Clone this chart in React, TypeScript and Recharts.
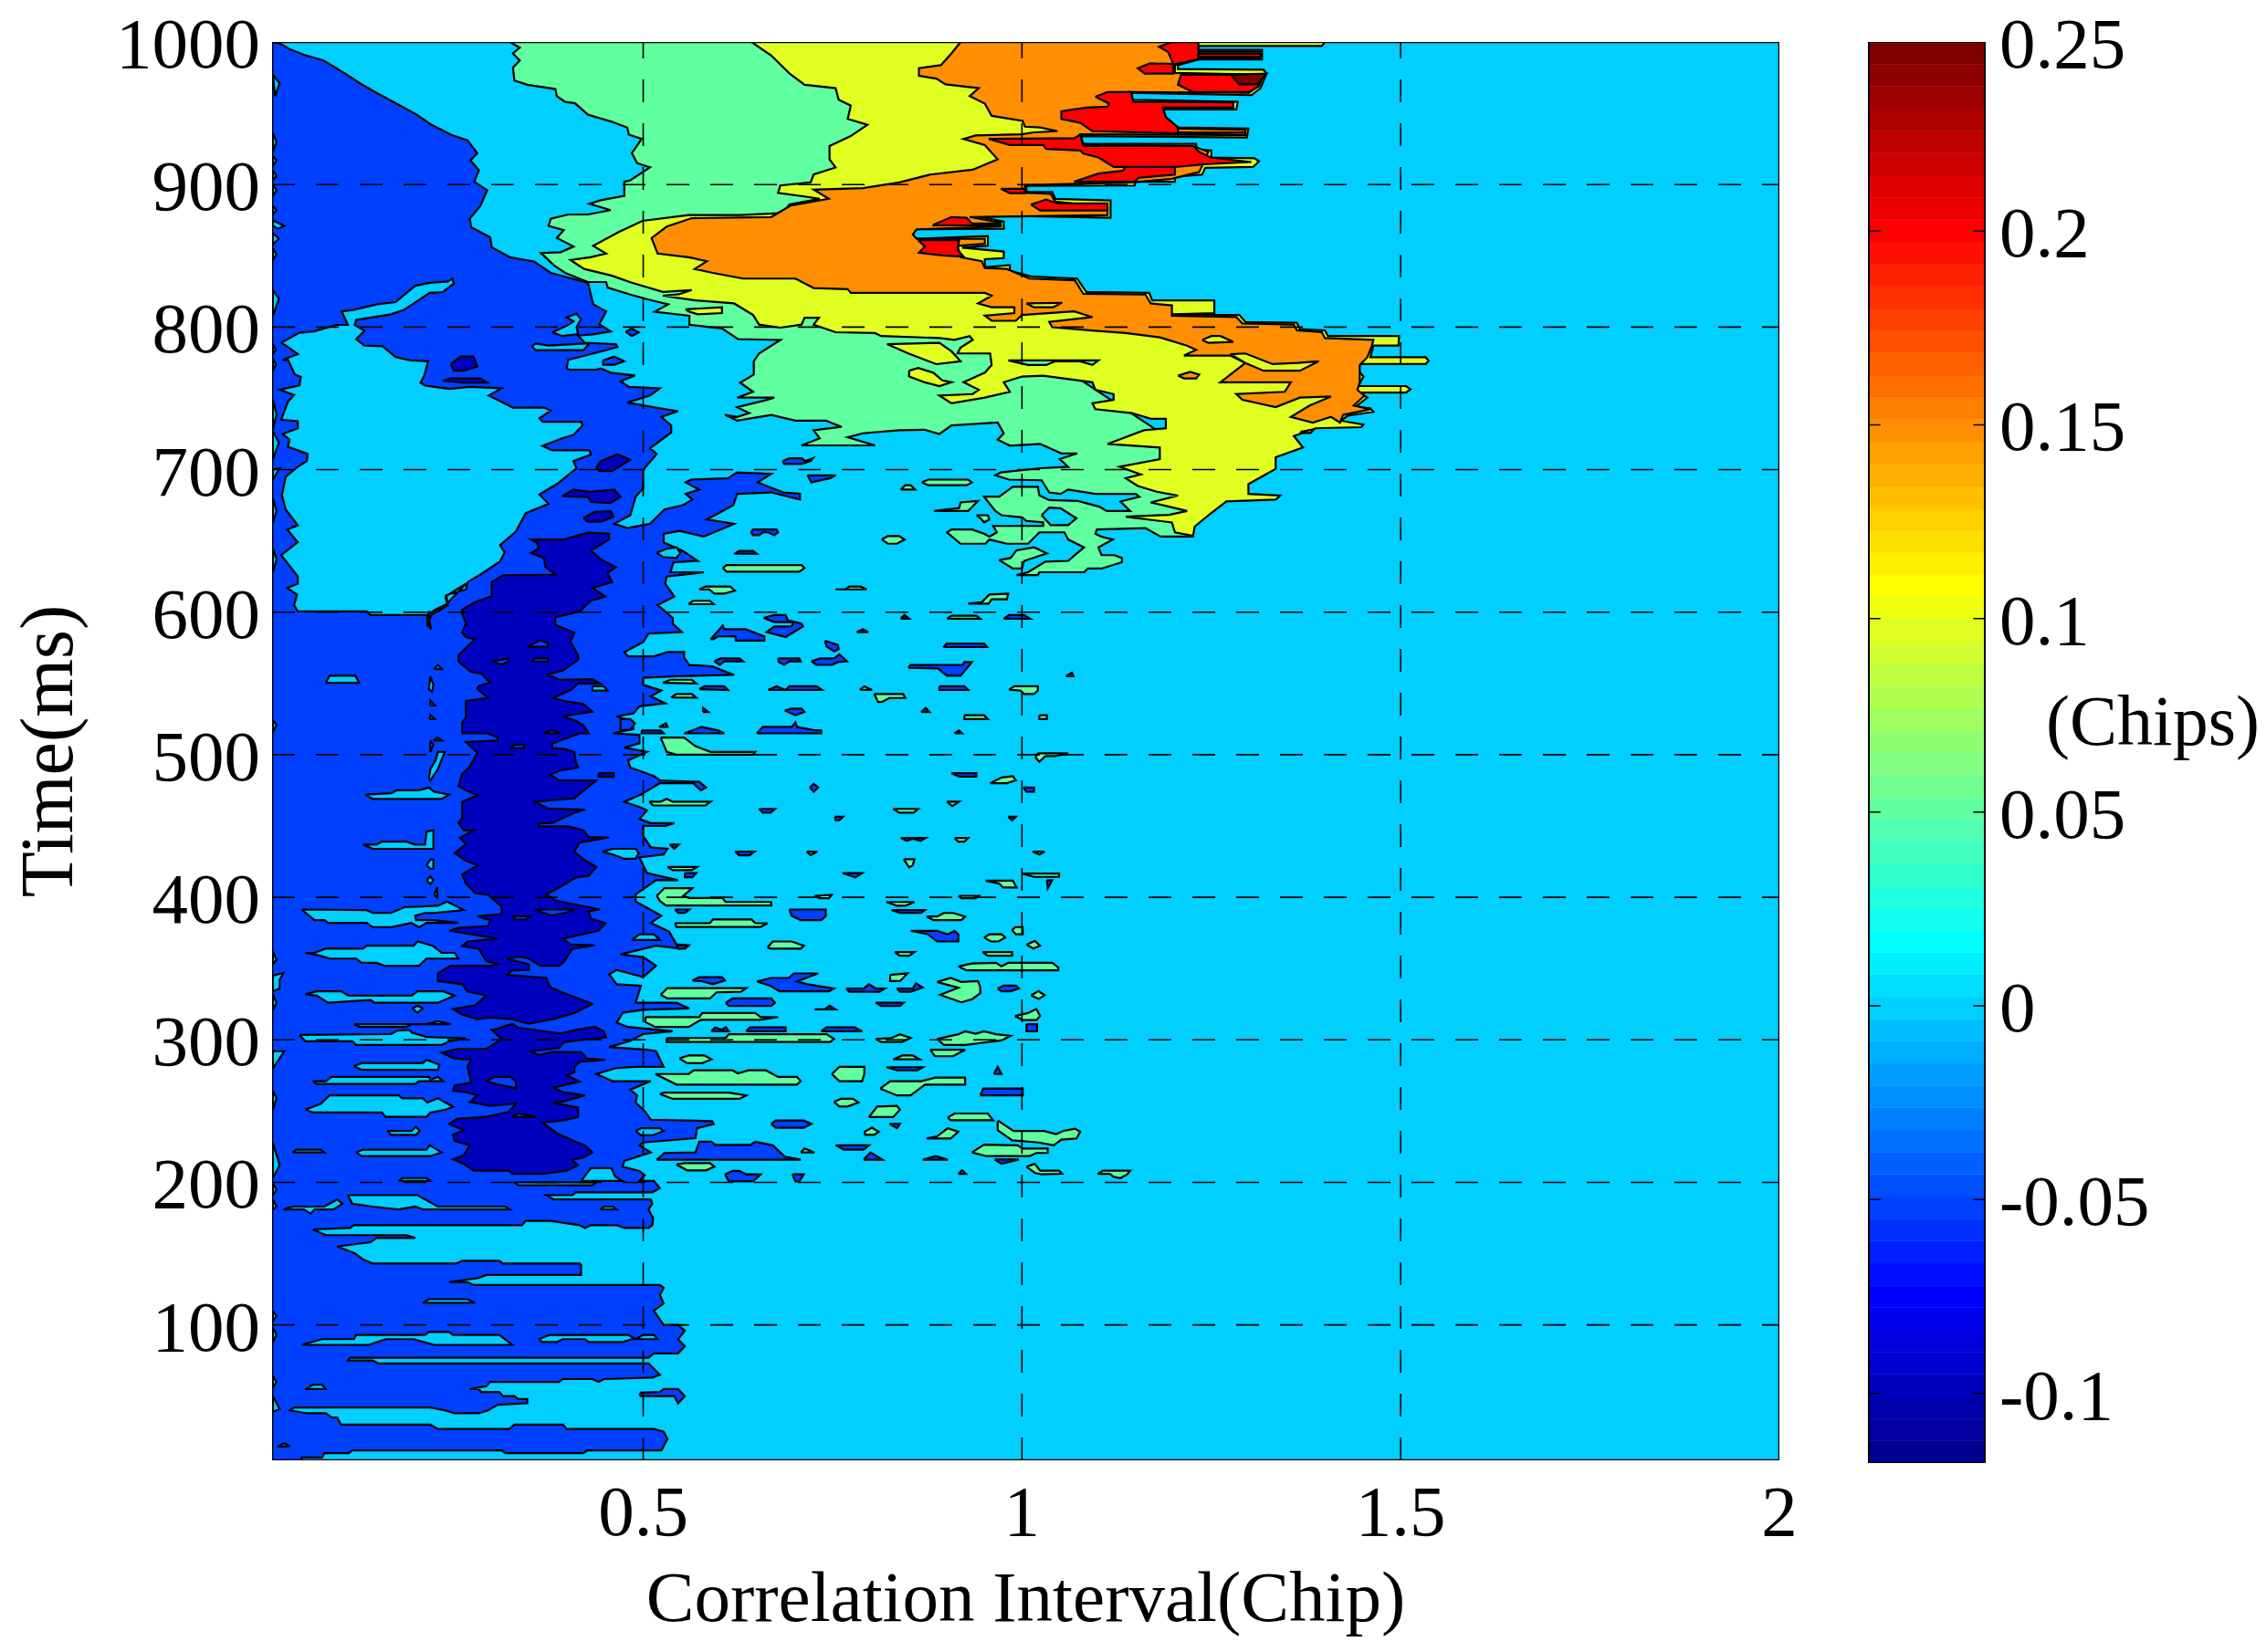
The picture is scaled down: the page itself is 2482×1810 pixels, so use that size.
// App.tsx - filled contour of tracking error, correlation interval vs time
import { ScatterChart, Scatter, XAxis, YAxis, Label } from 'recharts'

const FONT = '"Liberation Serif", serif'
const FONT_SIZE = 79

const xTicks = [0.5, 1, 1.5, 2]
const yTicks = [100, 200, 300, 400, 500, 600, 700, 800, 900, 1000]
const xGrid = [0.5, 1, 1.5]
const yGrid = [100, 200, 300, 400, 500, 600, 700, 800, 900]
const X_DOMAIN: [number, number] = [0.01, 2]
const Y_DOMAIN: [number, number] = [5, 1000]

// every region is a flat run of chip, ms, chip, ms ...
const blueMain = [
  [0.01,1000,.020,999,.033,995,.052,991,.078,987,.106,978,.126,971,.149,964,.177,956,.201,949,.220,942,.246,935,.268,931,.281,922,.272,917,.283,910,.277,902,.294,896,.285,885,.271,876,.273,870,.298,863,.300,856,.324,849,.356,846,.378,838,.427,831,.434,816,.451,811,.442,802,.457,797,.436,795,.414,794,.423,789,.464,788,.466,786,.431,781,.401,777,.399,771,.403,770,.436,770,.444,771,.457,768,.489,766,.470,762,.481,758,.522,757,.509,752,.479,747,.522,743,.546,741,.524,737,.537,731,.537,726,.509,715,.518,711,.500,700,.500,687,.490,681,.483,668,.462,662,.479,659,.509,662,.528,672,.552,675,.565,679,.556,683,.574,686,.556,691,.563,693,.612,694,.624,698,.669,697,.651,691,.685,684,.707,683,.707,679,.669,684,.624,683,.619,675,.584,665,.620,662,.580,653,.548,657,.527,655,.527,649,.552,643,.572,636,.540,635,.536,628,.580,628,.531,625,.529,620,
  .541,611,.519,605,.539,596,.539,592,.551,586,.507,585,.500,579,.475,572,.480,569,.514,569,.532,572,.554,572,.554,568,.561,563,.591,562,.620,556,.544,555,.500,554,.500,549,.524,545,.510,541,.529,536,.495,534,.487,529,.465,527,.487,523,.487,518,.460,515,.495,514,.495,508,.475,505,.505,502,.480,496,.483,491,.514,485,.522,482,.574,481,.583,477,.576,475,.566,480,.522,480,.497,472,.475,467,.497,463,.505,461,.495,455,.510,452,.541,452,.529,450,.500,450,.500,443,.510,435,.532,434,.527,430,.495,428,.505,417,.546,412,.517,412,.490,402,.490,397,.524,387,.510,382,.534,376,.544,367,.561,366,.549,364,.517,366,.470,360,.500,358,.517,352,.500,344,.465,349,.455,346,.465,339,.497,338,.490,326,.544,326,.561,322,.500,321,.473,319,.465,312,
  .480,309,.539,306,.500,304,.482,299,.455,295,.505,293,.517,292,.527,281,.490,281,.463,280,.438,276,.460,271,.510,271,.483,265,.492,261,.490,256,.502,250,.510,244,.591,243,.593,241,.571,238,.569,231,.500,228,.495,226,.510,221,.475,215,.473,211,.495,208,.502,205,.495,201,.514,201,.522,196,.512,193,.411,193,.406,191,.372,191,.382,188,.510,188,.512,185,.507,181,.513,175,.512,170,.507,168,.475,168,.465,170,.431,170,.423,168,.416,170,.377,173,.345,173,.340,170,.118,170,.113,168,.064,167,.081,163,.187,163,.199,161,.148,161,.140,158,.096,155,.111,152,.120,150,.130,146,.143,143,.253,143,.261,145,.310,145,.315,143,.416,143,.418,142,.418,135,.293,135,.283,133,.244,130,.268,130,.276,128,.522,128,.527,126,.522,121,.527,115,.514,110,.527,100,.546,100,.555,96,.546,90,.555,85,.546,80,.514,80,.507,77,.113,77,.110,75,.143,75,.150,73,.507,73,.522,65,.512,63,.448,62,.441,60,.433,62,.394,62,.389,60,.298,60,.293,57,.271,55,.283,55,.286,53,.310,53,.315,50,.330,50,.335,48,.347,48,.347,45,.308,44,.295,40,.283,38,.251,38,.239,40,.219,42,.039,42,.034,40,.056,38,.081,38,.089,35,.096,35,.101,30,.219,30,.229,27,.323,27,.330,30,.394,30,.399,27,.514,27,.527,25,.532,20,.524,12,.426,12,.421,10,.318,10,.313,12,.116,12,.111,10,.079,10,.076,7,.049,7,.049,5,0.01,5],
  [.495,51,.497,52.5,.522,53,.527,55,.546,55,.555,50,.546,45,.541,50,.497,50],
]

const cyanPockets = [
  // big pocket left of the ridge, 600 to 790 ms
  [.022,789,.046,796,.065,797,.095,801.5,.110,801.5,.102,811,.117,812,.149,816,.173,817.5,.199,829,.218,831,.242,832,.248,834,.250,830.5,.235,824.5,.218,824,.184,812,.167,809,.121,805,.119,801.5,.132,797.5,.121,791.5,.132,787,.156,786.5,.173,779,.192,776.7,.216,776,.211,766,.206,761,.212,759,.244,756.6,.270,758,.313,757,.296,752,.311,748,.328,743.5,.369,743.5,.378,741.4,.363,736,.367,733.6,.418,733.6,.420,731,.408,724.4,.393,722,.367,716.6,.380,713.5,.429,713.5,.431,710.6,.408,706,.412,701,.388,690.6,.363,682.6,.375,676,.345,669.5,.332,656.6,.311,647,.317,642,.311,635.6,.285,626.4,.268,621,.266,616,.240,612,.242,605,.229,600.5,.216,600,.217,597.9,.215,590,.220,598,.229,600.5,.241,606,.239,611,.266,620,
    .241,606,.223,601,.217,595,.220,588,.215,592,.215,598,.140,598,.135,600.5,.044,600.5,.039,605,.043,612.4,.030,617,.044,620,
    .044,625,.022,640,.044,649,.030,658,.044,661,.028,672,.023,682,.028,695,.044,702,.056,706,.057,711,.031,716,.033,721,.024,725,.044,729,.044,734,.022,735,.031,747.6,.039,752.4,.020,756,.046,759,.048,765,.040,766.8,.031,777,.024,777,.044,781,.031,786],
  [.380,796.3,.401,801.5,.408,804,.399,806.8,.412,809.4,.418,805.5,.412,800,.414,795,.393,793.7],
  [.353,786.6,.358,788.5,.375,787,.423,788.5,.429,788.5,.421,783.8,.358,783.8],
  [.081,550.5,.086,555.4,.120,555.4,.125,550.5],
  [.133,472,.167,473,.175,475,.204,475,.217,477,.224,474,.244,472,.234,469,.143,469],
  [.130,437,.148,437,.155,439,.187,439,.199,437,.212,437,.214,446,.223,447,.223,434,.143,434],
  [.217,483,.219,490,.226,496,.229,502,.238,502,.229,490,.219,482],
  [.049,391.4,.135,391,.143,389,.167,389,.185,393,.229,394,.241,397,.263,391,.224,389,.212,389,.199,387,.200,384,.222,384,.256,382,.214,382,.204,379,.194,382,.167,379,.143,379,.135,382,.084,382,.079,384,.066,384],
  [.054,361,.066,361,.081,364,.130,364,.135,366,.197,366,.202,369,.222,366,.234,361,.251,361,.256,357,.214,357,.204,352,.158,352,.148,354,.128,354,.121,357,.086,357,.074,359],
  [.054,332,.069,334,.101,334,.111,331,.194,331,.202,334,.236,334,.251,331,.229,326,.145,326,.140,328,.084,326,.069,331],
  [.195,322,.202,324,.209,322,.202,319],
  [.118,311,.214,311,.229,313,.246,311,.194,311,.187,309,.126,309],
  [.046,303.4,.167,304,.175,306.4,.191,307,.195,305,.214,302,.266,301,.244,299,.234,296.4,.121,296.4,.116,299,.054,299],
  [.118,281.4,.128,283.6,.209,283.6,.214,286,.231,282.5,.229,279,.128,279],
  [.064,271,.081,271,.089,274,.217,274,.219,272,.229,274,.236,271,.204,271,.199,269,.069,269],
  [.054,251,.074,255,.086,261,.177,261,.182,259,.209,259,.215,256,.229,259,.249,253,.239,251,.219,249,.214,246,.160,246,.155,249,.064,249],
  [.162,236,.194,236,.200,239,.205,236,.200,233.4,.167,233.4],
  [.037,221,.079,221,.074,223,.042,223],
  [.121,221,.130,223,.214,223,.218,226,.234,221,.219,218.4,.128,218.4],
  [.177,201,.182,203,.214,203,.219,201],
  [.418,201,.431,210,.458,210,.463,204,.473,201],
  [.330,200,.438,200,.433,198,.335,198],
  [.110,191,.202,191,.229,183,.318,183,.324,181,.209,181,.199,183,.177,181,.143,183,.116,185],
  [.037,183,.079,183,.096,188,.103,185,.091,181,.066,181,.061,178,.052,181,.025,181],
  [.443,181,.448,183,.460,183,.465,181],
  [.209,115.5,.217,118,.268,118,.278,115.5],
  [.049,86,.076,90,.118,90,.121,93,.212,93,.217,95,.244,95,.249,93,.310,93,.327,86,.224,86,.197,90,.160,90,.143,87,.138,86],
  [.362,90,.377,93,.480,93,.490,90,.500,93,.514,93,.519,90,.485,90,.473,88,.428,88,.423,90,.394,90,.386,88,.367,88],
  [.054,55,.064,58,.076,58,.081,55],
  [.490,236,.497,238,.522,238,.527,236,.512,233,.497,233],
  [.485,370,.495,374,.514,374,.522,370],
  [.446,432,.460,434,.490,434,.494,431,.490,427,.475,427,.460,430],
  [.433,548,.448,548,.453,545,.433,545],
  [.219,555,.223,549,.221,544,.217,546],
  [.214,422.4,.219,426.6,.223,426.6,.223,420,.219,420],
  [.219,510,.223,507,.219,502],
  [.224,560,.229,563,.234,560],
  [.223,510,.228,512,.234,510],
  [.219,534.5,.225,534.5,.219,538],
  [.218,525,.225,525,.219,528],
  [.214,412,.219,414.5,.223,412,.219,409],
  [.224,402,.228,407,.228,399.6],
  [.518,641.7,.531,644.5,.544,645.5,.549,641.7,.544,638,.526,638.7],
  // wisps along the left edge
  [.011,977,.020,971,.014,962],[.011,936,.016,930,.011,923],[.011,920,.016,917,.011,913],[.011,910,.016,906,.011,903],[.011,900,.016,896,.011,892],[.011,885,.016,882,.011,879],[.011,875,.026,871,.018,869,.011,871],[.011,866,.019,862,.011,858],[.011,855,.016,851,.011,847],[.011,826,.019,820,.014,812,.011,808],[.011,788,.015,784,.011,781],[.011,778,.015,774,.011,769],[.011,749,.016,739,.011,728],[.011,727,.019,719,.011,707],[.011,700,.020,701,.011,693],[.011,680,.016,671,.011,663],[.011,645,.016,637,.011,628],
  [.011,524,.016,521,.011,516],[.011,345,.025,347,.020,342,.020,336,.011,334],[.011,362,.016,356,.011,353],[.011,332,.016,326,.011,321],
  [.011,292,.026,292,.015,283,.011,280],[.011,264,.016,259,.011,251],[.011,228,.020,212,.011,203],[.011,199,.016,195,.011,191],[.011,188,.016,183,.011,181],[.011,110,.016,106,.011,103],[.011,98,.016,93,.011,88],[.011,64,.016,60,.011,56],[.011,50,.020,41,.011,39],[.017,14.5,.026,17,.034,15],
]

const deepRegions = [
  [.358,651,.395,651,.427,655.7,.455,655,.455,651,.431,643.4,.444,637,.464,631.6,.453,627.7,.459,621,.433,617,.450,611,.431,608,.416,600.5,.384,596.4,.384,591,.409,585.7,.404,579.3,.414,569.7,.414,566.5,.394,559,.374,556.3,.389,552.6,.433,553,.443,550,.414,550,.406,545.8,.381,539.8,.396,537.7,.421,535.6,.433,530.2,.394,527,.411,523.8,.421,520.6,.428,515,.416,515,.391,510,.380,507.8,.380,504.6,.396,504,.409,502,.411,495,.414,491,.391,489,.377,486,.389,482,.438,482,.421,474.7,.409,469.4,.357,467,.374,462.3,.423,461.4,.411,459.7,.381,452.3,.362,451.6,.362,449.7,.401,449.7,.421,447,.428,442.2,.455,442,.416,438.4,.409,432,.421,426.7,.438,421.3,.428,415,.411,413.8,.391,407.4,.372,402,.384,397.8,.443,391.4,.428,390.3,.431,385,.450,381.8,.441,376.5,.394,371,.404,366.9,.436,366.4,.406,363.7,.396,355,.389,352,.364,352,.349,357,.335,358.3,.320,356.8,.349,353,.349,349,.327,348.7,.320,345.5,.372,343.4,.377,337,.396,332.7,.433,325.2,.409,318.8,.381,314.5,.349,311.3,.327,314.5,.298,315.6,.281,314.5,.261,317.7,.249,321.6,.278,324.2,.293,331.2,.268,333.8,.261,339,.229,341.2,.229,346.6,.246,352,.298,352,.310,353,.293,355,.283,363.7,.261,365.8,.268,369,.308,371,.244,376.5,.256,378.6,.295,379.7,.298,384,.281,386.7,.313,388.2,.313,393.5,.295,401.7,.278,403,.266,409.6,.261,416,.281,422.4,.266,425.6,.251,431,.266,437.3,.258,441.6,.276,447,.263,447,.256,452.3,.261,455.5,.261,467,.281,471.5,.268,474.7,.256,477.9,.261,486.4,.271,491.8,.281,501.4,.266,508.9,.308,510,.308,512,.295,515,.261,515,.261,522.7,.266,526,.266,537.7,.295,539.8,.281,546.2,.283,548.4,.298,550.5,.286,556.9,.273,558,.256,565.4,.256,569.7,.278,581,.266,582.5,.261,585.7,.266,592,.261,598.5,.261,601.7,.278,607,.300,611.4,.300,621,.315,625.9,.384,626.4,.371,631.6,.369,638,.352,641.6,.362,644.7,.360,648.6,.352,651],
  [.303,307,.327,311.3,.335,308.5,.391,304.5,.411,307,.436,309.2,.448,306,.451,301.7,.431,300.6,.396,298.5,.389,294.2,.352,292,.362,289.3,.379,291.5,.418,291.5,.426,286.8,.450,286,.416,284.6,.409,280.4,.409,277.2,.399,275,.416,270.7,.381,266.5,.394,263.3,.423,261,.396,256.9,.381,255.8,.414,252.6,.414,245.8,.396,243.6,.367,241.9,.386,234.4,.409,229,.423,226,.433,221,.421,217.4,.406,215.9,.414,212,.399,208.2,.367,206,.327,206,.322,208.2,.276,208.2,.263,213,.249,216.3,.263,219,.271,226,.251,229,.249,233.4,.263,236.6,.244,240.9,.254,244.5,.295,246.2,.322,249.4,.332,255.2,.298,253.7,.271,256.4,.281,261.1,.266,263.3,.249,264.3,.251,268,.273,270,.268,281.4,.273,286.1,.251,286.8,.234,291,.254,293.6,.293,293.6,.313,300.6,.300,307],
  [.246,774,.259,779.3,.276,779.3,.281,772.3,.263,769.4,.250,769.4],
  [.438,701.4,.444,706,.466,710.8,.483,707,.459,699,.442,699],
  [.393,681.3,.408,686,.429,684.4,.462,686,.470,680.8,.457,676.6,.431,677.4,.427,680.8],
  [.421,666,.436,670.3,.457,670.8,.461,667,.444,663.5,.427,663.5],
  [.235,762.3,.246,764,.285,764,.294,761,.263,761],
  [.441,487,.461,487,.461,484.5,.441,484.5],
]

const blueIslands = [
  // holes in the deep column
  [.293,270.7,.303,274,.325,274,.332,270.7,.332,266,.310,268.6],[.327,246,.335,248.3,.359,245.8],[.347,575.7,.364,580.4,.374,578.3,.374,575.7],[.300,565.4,.322,567.6,.322,565.4,.313,563.3],[.352,565.4,.357,567.6,.374,567.6,.374,565.4],[.327,386.7,.351,386.7,.345,384.4,.332,384.4],[.357,391.4,.409,391.4,.399,389.3,.379,387.2,.367,389.3],[.369,515,.379,517.4,.391,515],[.324,504.6,.330,507,.343,507,.343,504.6],
  [.447,776.7,.462,779.3,.475,776,.462,773.6,.447,773.6],[.477,796.8,.485,799,.494,796.3,.485,793.7],
  [.684,706,.693,708,.709,708,.714,706,.724,708,.721,706,.709,704,.686,704],[.717,696,.754,696,.747,694,.722,691],[.642,656,.645,658,.676,658,.678,656,.673,654,.665,656,.658,656,.653,654,.645,654],[.620,641,.627,643,.645,643,.650,641],[.840,595.4,.845,598,.851,595.4],[.976,595.4,.983,598,1.003,598,1.011,595.4],
  [.659,596,.673,598,.688,598,.691,594.3,.709,592,.711,590,.688,582.5,.663,586,.673,590,.696,590,.698,593,.673,593],
  [.589,581,.605,590.6,.607,588,.635,588,.660,583,.660,580,.622,580,.622,583,.599,583,.592,581],[.782,586,.790,588,.797,586],[.740,580,.757,577,.758,574,.752,572.5,.742,576],[.896,575.5,.901,578,.950,578,.954,575.5],[.594,565.5,.602,567.6,.627,567.6,.632,565.5,.607,565.5,.601,563],[.678,567.6,.706,567.6,.708,565.5,.693,565.5,.686,563,.679,565],[.722,565.5,.734,567.6,.752,567.6,.759,570.4,.769,565.5,.757,565,.749,563,.729,563],[.850,561,.853,563,.922,563,.924,565,.934,565,.919,555.4,.901,555.4,.889,560.5],
  [.574,546,.581,548,.607,548,.612,545.4],[.665,545.4,.676,548,.688,545.4,.693,548,.729,548,.736,545.4],[.891,548,.924,548,.929,545.4,.891,545.4],[.687,531,.696,532.4,.709,532.4,.713,530,.701,527.7],[.867,530,.873,532.8,.878,530],[.579,530,.579,532.8,.586,530],[.470,525,.483,525,.489,522,.483,517.4,.470,517.4],[.554,515,.577,519.5,.599,517,.607,515],[.650,515,.658,519.5,.696,519.5,.701,522.7,.703,519.5,.724,517.4,.735,517,.735,515],[.498,517,.523,517,.527,515,.498,515],[.911,515,.917,517,.921,515],[.907,487,.940,487,.940,484.7,.917,484.7],[.720,477,.725,479.6,.731,477,.725,474],[1.002,477,1.016,477,1.016,474,1.006,474],[.653,462,.674,462,.668,459.4,.658,459.4],[.753,456.5,.764,456.5,.759,454,.754,454],[.982,456.5,.992,456.5,.987,454],[.621,432,.647,432,.640,429.4,.627,429.4],[.535,437,.547,437,.541,434],[.763,417,.789,417,.780,414],[1.033,412,1.040,412,1.034,406.4],[.555,417,.570,417,.565,414,.555,414],[1.058,555,1.066,557.5,1.068,555],[.840,441.6,.873,441.6,.866,439.5,.856,441,.848,439.5],
  [.542,391.4,.561,391.4,.555,389,.546,389],[.693,391.4,.741,391.4,.741,386.7,.735,384,.708,384,.696,387],[.828,391,.872,391,.867,389,.839,389],[.853,376.5,.888,376.5,.902,374,.911,376.5,.916,374,.916,369,.888,369,.876,374],[.544,366.4,.560,366.4,.555,364,.546,364],[.565,341.6,.574,344,.604,344,.608,341.6,.592,339,.578,341],[.650,341,.669,343.4,.692,343.4,.699,346.6,.731,346.6,.703,341,.717,339,.752,336,.745,334,.680,334,.669,337.6],[.768,336,.791,336,.798,339,.807,336,.819,336,.812,333.7,.772,333.7],[.835,336,.856,336,.860,339.7,.869,336.7,.853,333.7,.839,333.7],[.968,336,.976,338,.992,338,.996,336,.985,334,.973,334],[.609,326,.618,329,.669,329,.674,326,.669,323.7,.613,323.7],[.807,326,.844,326,.839,323.7,.814,323.7],[.726,321.4,.740,321.6,.746,324,.754,321.4],[.590,306,.595,308.7,.604,307,.609,309,.613,306],[.636,306,.641,308.7,.688,308.7,.688,306],[.735,306,.742,308.7,.779,308.7,.789,306],[1.006,311,1.020,311,1.020,306,1.006,306],[.821,280.8,.869,280.8,.862,278.7,.835,278.7],[.963,276,.968,281,.973,276],[.945,261,.949,265.8,1.001,265.8,1.001,261],[.669,241,.675,243.4,.712,243.4,.722,241,.712,238.3,.675,238.3],[.825,241,.839,241,.835,238],
  [.518,215.9,.528,220.6,.569,221,.574,228.5,.590,228.5,.595,226.3,.641,226.3,.648,228.5,.671,226,.687,218,.708,215.9],[.754,226,.798,226,.791,223,.765,223],[.791,215.9,.800,221,.816,215.9],[.869,215.9,.886,218.4,.902,215.9],[.964,216,.996,216,.973,213],[.608,205.6,.618,208,.627,208,.636,205.6,.655,205.6,.645,200.7,.613,200.7],[.697,205.6,.712,205.6,.706,200.7,.701,200.7],
]

const greenMain = [
  [.324,1000,.337,996,.328,992,.337,987,.328,982,.330,973,.347,970,.384,967,.386,962,.397,958,.410,957,.427,949,.459,944,.479,940,.481,935,.498,932,.485,922,.492,915,.509,912,.483,903,.475,902,.475,892,.444,889,.429,886.5,.457,882,.427,879,.401,879,.378,876,.375,871,.395,868,.386,862.5,.408,856.5,.391,852.5,.365,852,.382,843.4,.397,838,.427,831.6,.451,831.6,.453,827.7,.485,822.5,.513,818.5,.533,816,.515,810.7,.561,808,.561,801.6,.604,799,.625,791.6,.681,791,.653,781.5,.646,776,.646,766.7,.628,761,.645,754.6,.624,750.5,.673,750.5,.661,748.6,.624,743.8,.640,739.7,.624,737,.608,738.4,.624,734.4,.669,738.4,.701,734.4,.741,734.4,.762,730,.725,727.6,.733,722,.709,717,.806,717,.770,722.7,.790,725.5,.838,727.6,.871,728,.891,725,.907,731,.968,733,.976,725.5,.968,721,.984,716.8,1.024,718,1.052,711.4,1.073,711.4,1.050,707.4,1.061,702,1.024,701,.972,698,.965,696,.983,693,1.026,692.5,1.036,684,1.051,683,1.061,686,1.097,683,1.150,683,1.155,681,1.130,677.6,1.143,671,1.112,671,1.102,674,1.074,678,1.036,678.6,1.023,682,1.021,688,.988,688,.970,681,.950,681,.965,671,.973,668,1.000,666.5,1.006,664,1.028,663,1.028,660.5,.962,660.5,.967,656,.957,653,.950,655,.934,658,.907,658,.901,656,.919,648,.952,648,.957,651,.980,648,1.008,648,1.023,656,1.056,656,1.061,651,1.082,645.5,1.061,636,1.031,635.5,1.008,628,.993,626,1.021,626,1.023,628,1.082,628,1.087,630.6,1.105,630.6,1.132,635,1.132,638,1.122,640,1.105,640,1.101,645.5,1.120,651,1.105,653,1.097,655,1.099,658,1.163,659,1.183,653,1.226,653,1.2,720,1.0,790,.83,870,.83,1000],
]

const cyanInGreen = [
  [1.026,668,1.036,673.3,1.051,672.9,1.072,665.8,1.061,661,1.038,661],
]

const greenIslands = [
  [.970,636.6,.985,638,.993,643.4,1.016,645.5,1.033,641.3,1.003,636,1.000,630.6,.988,630.6],
  [.868,691,.876,693,.929,693,.934,691,.927,689,.876,689],[.840,686,.846,689,.853,689,.859,686],[.884,671,.917,673,.919,677,.942,678,.929,671],[.940,668,.955,668,.957,665,.950,663,.945,666],[.815,651,.823,653.4,.838,653.4,.845,651,.835,648,.823,648],[.605,631,.610,633,.709,633,.713,631,.706,628.4,.610,628.4],[.574,616,.582,618,.615,618,.621,615,.607,613,.594,613,.587,616],[.754,616,.767,616,.772,618,.787,618,.795,616],[.929,606,.947,607,.957,612.4,.982,613,.980,609,.960,609,.956,606],[.560,605.6,.566,608,.588,608,.593,605.6],[.526,550.5,.536,552.6,.564,552.6,.570,550],[.537,540.2,.544,542.6,.564,542.6,.570,540],[.901,595.4,.907,597.5,.940,597.5,.945,595.4],[.786,545.6,.792,548,.802,545.4],[.805,542.6,.843,542.6,.846,539.8,.825,539.8,.815,537,.810,537],[.983,545.6,.990,548,1.021,548,1.021,545,1.016,542.6,1.003,542.6,.998,545],[.924,527.7,.950,527.7,.955,525,.924,525],[1.023,527.7,1.033,527.7,1.033,525,1.023,525],[.521,519.5,.530,522,.532,519.5],[.523,512,.554,512,.569,506,.589,502,.648,502,.645,500,.544,500,.531,502],[1.021,501,1.061,501,1.044,499,1.031,499,1.023,495,1.018,498],[.958,480,.973,484,.988,485,.992,482,.980,480],[.508,467,.523,467,.531,469,.539,467,.589,467,.582,464.4,.513,464.4],[.901,467,.917,467,.908,464],[.830,462,.863,462,.857,459.4,.838,459.4],[.911,441.6,.929,441.6,.924,439,.916,439],[.716,432,.730,432,.721,429.6],[1.014,432,1.030,432,1.023,430],[.844,426.7,.858,426.7,.856,422.4,.851,421],[.532,421.3,.571,421.3,.564,419,.539,419],[1.000,416.6,1.049,416.6,1.049,414.3,1.016,414.3],[.952,411.7,.988,411.7,.993,406.8,.975,406.8,.970,409.6],
  [.518,401,.528,406.4,.565,406.4,.553,401,.560,399.5,.604,399.5,.609,396.7,.669,396.7,.669,394.2,.530,394.2,.522,397.4],[.726,401,.749,401.7,.745,399.3,.733,399.3],[.916,401,.943,401,.939,399.3,.920,399.3],[.821,396.7,.858,396.7,.846,394,.835,394],[.874,386.5,.888,386.5,.897,389,.909,389,.925,386.5,.920,384,.883,384],[.542,381.8,.588,381.8,.592,384.4,.643,384.4,.648,381.8,.664,381.8,.655,379.2,.544,379.2],[.987,377,.991,379,1.001,379,1.001,374,.992,374],[.950,371.8,.957,374,.973,374,.978,371.8,.969,369,.959,369],[.664,364.7,.671,369,.696,369,.712,366,.708,364,.669,364],[1.006,366.8,1.017,369.4,1.024,366,1.015,364],[.832,361.5,.858,361.5,.851,359,.839,359],[.948,361.5,.987,361.5,.987,359,.955,359],[.916,351.5,.934,353.6,.966,354,.973,351.5,.982,354,1.040,354,1.048,350.8,1.048,348.7,.927,348.7],[.826,345.5,.849,346.6,.839,341.2,.826,341.2],[.523,331.6,.532,336.3,.636,336.3,.629,333.7,.597,333.3,.588,329,.532,329],[.888,340.6,.906,343.4,.920,340.6,.942,341.2,.945,337,.945,332.7,.934,328.4,.920,326.3,.892,331.6,.916,336.5],[.991,316.7,1.008,318.8,1.019,321.6,1.024,316.7,1.019,313.9,1.001,313.9],[1.012,331.2,1.022,334.2,1.030,331.2,1.022,328.6],[.503,316,.574,316,.578,318.8,.648,318.8,.655,316,.678,316,.655,314,.576,314,.560,309,.516,309,.503,312.4],[.531,301.3,.609,301.3,.613,303.9,.742,303.9,.752,300.6,.747,298.5,.531,298.5],[.807,300.6,.828,301.3,.839,303.9,.853,301.3,.842,298.5,.814,298.5],[.888,300.6,.916,303.9,.925,306,.939,304.3,.950,306,.966,303.9,.985,302.8,.973,299.6,.925,296.4,.897,296.4],[.879,293,.925,293,.909,288.5,.885,288.5],[.548,287,.560,289,.581,289,.590,286.3,.578,283.6,.558,283.6],[.830,286.3,.842,289,.856,289,.865,286.3],[.516,276,.560,276,.567,278.6,.618,278.6,.625,276.5,.639,278.6,.662,278.6,.678,274,.703,274,.708,271,.703,268.6,.544,268.6],[.749,276,.759,281,.792,281,.792,276,.789,271,.759,271],[.813,265.8,.826,271,.867,271,.886,273.5,.925,273.5,.925,268.6,.872,268.6,.853,261,.835,261],[.522,262,.528,263,.613,263,.636,261,.627,258.6,.539,258.6],[.752,256.4,.761,258.6,.777,258.6,.784,256,.770,253.2,.759,253.2],[.798,245.8,.809,253.2,.835,253.7,.839,251,.830,245.8],[.902,245.5,.911,248.3,.955,248.3,.962,243.6,.906,243.6],[.792,235.5,.802,238.3,.811,235.5,.805,233.4,.793,233.4],[.874,230.8,.888,232.3,.902,238,.916,235.5,.906,230.8],[.968,243.4,.989,236,1.029,236,1.045,233.8,1.054,236,1.070,237.7,1.077,235.5,1.072,230.8,1.052,230,1.042,226,1.022,228,.987,229.5,.968,236.6],[.934,221,.950,226.5,.994,226,1.001,223.8,1.034,223.8,1.034,220.6,1.019,220.6,1.010,218.4,.953,218.4],[.708,221,.713,223.8,.726,221],[.544,212.5,.555,213.5,.588,213.5,.594,211,.583,208.4,.558,208.4],[.916,206,.921,208.4,.926,206],[1.006,211,1.017,213,1.024,208.2,1.049,208.2,1.053,206,1.026,205.6,1.017,206.7],[1.100,206,1.107,208.2,1.143,208.2,1.139,205.6,1.130,203,1.121,203.9,1.116,206],
]

const yellowMain = [
  [.643,1000,.669,990.5,.693,978,.713,970,.754,967.6,.758,959.5,.774,955.4,.770,946,.796,942,.774,934,.746,927,.746,917.7,.754,912,.725,907,.721,901.5,.681,899.3,.678,894.2,.717,891.3,.733,890,.693,886,.685,880,.628,878.6,.560,878.6,.499,874.5,.467,866.5,.434,857,.451,851.6,.430,849,.404,847,.422,840.8,.459,836,.483,831.4,.526,824.7,.564,826,.547,823,.526,822,.569,818.7,.620,816.6,.645,808.5,.653,801.7,.681,799.6,.709,801.7,.713,806.6,.732,806.6,.725,801.7,.754,796.4,.806,795.8,.814,793.7,.891,792.3,.911,791,.931,793.7,.935,791,.919,785.6,.915,781.5,.958,781.5,.960,773.4,.951,768,.923,761.3,.943,756,.935,753,.891,752,.907,746.5,.951,750.5,.984,754.6,.976,761.3,1.000,765.3,1.028,765.9,1.093,761.3,1.097,756,1.121,753,1.121,749,1.093,746.5,1.097,742.4,1.145,739.7,1.170,735.7,1.190,735.7,1.190,729,1.161,727.6,1.113,718,1.182,715.5,1.182,707.4,1.129,702,1.157,696.6,1.137,694,1.153,688.5,1.178,684.5,1.206,681.8,1.170,677,1.218,671,1.194,668.3,1.137,667,1.198,662.9,1.202,656,1.226,653.5,1.228,660,1.250,669.6,1.270,677.7,1.335,679,1.341,681.8,1.299,683,1.299,689.8,1.335,700.6,1.335,708.7,1.371,715.5,1.359,723.6,1.388,729,1.448,729.8,1.451,731.6,1.421,734.3,1.430,737.8,1.464,740.5,1.460,743,1.440,743.8,1.456,750.5,1.446,754,1.507,754,1.513,756.4,1.507,758.6,1.444,758.6,1.451,765.3,1.440,772,1.447,774,1.533,774,1.537,776.4,1.533,778.8,1.460,778.8,1.464,787,1.497,787,1.498,793.7,1.404,793.7,1.400,797.7,1.367,798.5,1.363,803,1.295,803.6,1.287,808.5,1.199,809,1.254,809.8,1.254,818.7,1.172,818.7,1.168,824,1.085,824.7,1.073,834,1.012,835.5,.984,839.5,.984,843.5,.951,842,.951,847.6,.976,848.4,.976,853,.921,855.7,.955,857,.955,863.8,.856,861.9,.856,868.6,.976,869,.976,874,.934,878.6,1.117,876.7,1.117,888.8,1.044,890,1.040,894.8,1.006,895,1.006,899,1.149,899.3,1.149,902,1.202,902,1.202,905.5,1.238,907,1.242,911.7,1.305,912.3,1.313,916.3,1.307,918.5,1.250,919,1.250,924,1.230,924.4,1.230,928.5,1.081,928.5,1.077,933.9,1.297,933,1.299,939.3,1.206,940,1.190,947.3,1.186,952.7,1.283,952.7,1.285,958,1.145,959.5,1.145,964.3,1.303,962.7,1.315,967.6,1.323,977.8,1.319,980.5,1.206,981,1.206,983.7,1.234,987.8,1.317,987.8,1.317,994.5,1.232,994.5,1.232,997.2,1.396,997.2,1.400,1000],
]

const greenOnYellow = [
  [.982,776.6,1.101,776.6,1.093,773.4,1.077,776,1.044,776,1.032,773.4,1.008,773.4],
]

const yellowIslands = [
  [.822,788,.891,789,.907,783,.919,776,.887,774,.850,781.5],
  [.851,769.4,.863,771.3,.883,768,.895,762.6,.907,761.3,.891,758.6,.871,761.3,.851,765.3],
  [.556,812.5,.604,813.9,.604,809.8,.572,809,.560,811],
]

const orangeMain = [
  [.919,1000,.907,992,.893,983.7,.864,981.6,.864,976.2,.887,974.3,.899,970.3,.943,967.6,.931,962,.951,956.8,.960,948.2,1.001,944.7,1.004,940.6,1.024,940,1.047,937.4,1.016,936.6,1.000,935.2,.939,934.4,.923,932,.951,927.7,.968,917.7,.935,910.4,.879,907,.838,901.5,.790,897.5,.725,896.4,.745,890,.695,885.3,.669,877.2,.564,876.4,.531,870.5,.511,862.4,.519,851.6,.560,849,.584,846.2,.568,840.8,.592,838,.632,834,.701,834,.725,827.4,.770,826.6,.774,824,.951,824,.960,822,.942,816.6,.960,813.9,.990,813.9,.990,809.8,.951,808,.960,804.4,.992,804.4,1.000,808.5,1.069,811,1.093,807,1.036,803.6,1.040,799.9,1.089,797.7,1.137,795.8,1.182,792.8,1.218,787,1.230,784,1.214,780,1.275,780,1.295,774.8,1.262,761.3,1.355,761.3,1.347,754.6,1.283,753,1.291,749,1.335,743.8,1.367,750.5,1.408,751.3,1.380,745,1.355,737,1.384,733,1.408,737,1.420,733,1.424,738.4,1.460,742.4,1.438,745,1.452,751.9,1.443,755.9,1.446,761.3,1.446,773.4,1.456,778.8,1.462,786.9,1.464,791,1.400,792.3,1.396,796.4,1.363,797.7,1.359,801.7,1.291,802.6,1.283,807,1.198,808,1.198,815.2,1.170,816.6,1.163,822.8,1.081,823.3,1.070,832.8,1.010,834,.980,840.8,.951,841.4,.947,846.2,.919,849,.915,857,.951,858.4,.951,861.9,.861,861.9,.856,865,.861,868.6,.972,870.5,.972,873.2,.931,877.2,1.113,878.6,1.113,884,1.044,888,1.038,893.4,1.004,894.2,1.004,899.6,1.145,901.5,1.198,904,1.234,908.8,1.242,917.7,1.246,923,1.226,927,1.081,927.7,1.077,935.2,1.295,934.7,1.295,938.4,1.202,939.2,1.186,947.3,1.182,954,1.279,954,1.279,956.8,1.145,958,1.141,964.9,1.300,964.3,1.311,968.9,1.319,977,1.202,978.3,1.202,983.7,1.230,989,1.315,989,1.315,993.2,1.230,993.2,1.226,1000],
  [1.206,765.9,1.222,768.6,1.234,766.7,1.230,764,1.214,764],
  [1.368,726.5,1.386,728.4,1.381,725.7,1.368,725.7],
]

const yellowOnOrange = [
  [1.006,816.6,1.053,817,1.041,813.9,1.016,813.9],
  [1.238,791,1.250,793.7,1.262,793.7,1.279,789.6,1.246,789],
  [1.275,781,1.295,781.5,1.331,774,1.364,774.8,1.392,776,1.367,769.4,1.319,769.4,1.295,774.8],
]

const redRegions = [
  [1.198,1000,1.233,1000,1.233,987.8,1.202,984.5,1.169,985,1.153,981.6,1.162,977.8,1.200,977.8,1.200,984.5,1.193,993,1.181,996.6],
  [1.210,977,1.319,977,1.313,968.9,1.300,964.9,1.226,964.9,1.206,970],
  [1.097,961.6,1.113,964.9,1.144,964.9,1.147,958,1.279,957.6,1.279,954,1.186,954,1.190,947.3,1.206,940,1.206,936.6,1.295,936.6,1.295,934.7,1.093,937.4,1.077,943.3,1.052,946,1.052,951.4,1.085,954,1.113,954.6,1.115,956.8],
  [.956,932,1.069,932.5,1.077,935,1.081,927,1.226,927,1.234,923,1.249,919,1.303,915.8,1.242,914.2,1.202,912.3,1.202,908.2,1.149,907,1.137,912.3,1.121,912.3,1.101,919,1.081,921.7,1.077,923.9,1.032,925,1.028,927.7,.984,927.7],
  [1.069,902,1.101,907.7,1.133,909.6,1.137,912.3,1.202,912.3,1.202,907,1.154,904.7,1.149,902],
  [.972,897,1.004,897,1.004,894,.984,894],
  [1.012,886,1.032,889.4,1.047,886.7,1.113,886.7,1.113,881.8,1.024,881.8],
  [.883,871.8,.907,877.2,.927,876.7,.934,872.6,.972,872.6,.972,871.3,.883,871.3],
  [.863,861,.917,861,.915,854.3,.923,849.4,.895,850.3,.864,852.2,.872,856.5],
  [1.233,991.8,1.315,991.8,1.315,989.7,1.233,989.7],
]

const darkRedRegions = [
  [1.276,977,1.323,977.8,1.311,970.3,1.287,970.3],
]

const plotLayers = [
  { fill: '#0040FF', regions: blueMain },
  { fill: '#00CFFF', regions: cyanPockets },
  { fill: '#0000BF', regions: deepRegions },
  { fill: '#0040FF', regions: blueIslands },
  { fill: '#60FF9F', regions: greenMain },
  { fill: '#00CFFF', regions: cyanInGreen },
  { fill: '#60FF9F', regions: greenIslands },
  { fill: '#DFFF20', regions: yellowMain },
  { fill: '#60FF9F', regions: greenOnYellow },
  { fill: '#DFFF20', regions: yellowIslands },
  { fill: '#FF8F00', regions: orangeMain },
  { fill: '#DFFF20', regions: yellowOnOrange },
  { fill: '#FF0000', regions: redRegions },
  { fill: '#800000', regions: darkRedRegions },
]

// colorbar
const cbarTicks = [-0.1, -0.05, 0, 0.05, 0.1, 0.15, 0.2, 0.2488]
const cbarEdges = [-0.118,-0.1123,-0.1065,-0.1008,-0.0951,-0.0893,-0.0836,-0.0779,-0.0722,-0.0664,-0.0607,-0.055,-0.0492,-0.0435,-0.0378,-0.032,-0.0263,-0.0206,-0.0148,-0.0091,-0.0034,0.0024,0.0081,0.0138,0.0195,0.0253,0.031,0.0367,0.0425,0.0482,0.0539,0.0597,0.0654,0.0711,0.0768,0.0826,0.0883,0.094,0.0998,0.1055,0.1112,0.117,0.1227,0.1284,0.1341,0.1399,0.1456,0.1513,0.1571,0.1628,0.1685,0.1743,0.18,0.1857,0.1914,0.1972,0.2029,0.2086,0.2144,0.2201,0.2258,0.2316,0.2373,0.243,0.2488]
const cbarColors = ['#00008F','#00009F','#0000AF','#0000BF','#0000CF','#0000DF','#0000EF','#0000FF','#0010FF','#0020FF','#0030FF','#0040FF','#0050FF','#0060FF','#0070FF','#0080FF','#008FFF','#009FFF','#00AFFF','#00BFFF','#00CFFF','#00DFFF','#00EFFF','#00FFFF','#10FFEF','#20FFDF','#30FFCF','#40FFBF','#50FFAF','#60FF9F','#70FF8F','#80FF80','#8FFF70','#9FFF60','#AFFF50','#BFFF40','#CFFF30','#DFFF20','#EFFF10','#FFFF00','#FFEF00','#FFDF00','#FFCF00','#FFBF00','#FFAF00','#FF9F00','#FF8F00','#FF8000','#FF7000','#FF6000','#FF5000','#FF4000','#FF3000','#FF2000','#FF1000','#FF0000','#EF0000','#DF0000','#CF0000','#BF0000','#AF0000','#9F0000','#8F0000','#800000']

const toPoints = (flat: number[]) => {
  const pts = []
  for (let i = 0; i < flat.length; i += 2) pts.push({ x: flat[i], y: flat[i + 1] })
  pts.push({ x: flat[0], y: flat[1] })
  return pts
}

const noDot = () => <g />

const tickStyle = { fontFamily: FONT, fontSize: FONT_SIZE, fill: '#000' }

function polyline(key: string, data: { x: number; y: number }[], line: object) {
  return <Scatter key={key} data={data} line={line} shape={noDot} isAnimationActive={false} legendType="none" />
}

function MainPlot() {
  return (
    <ScatterChart width={2050} height={1810} margin={{ top: 46, right: 101, bottom: 140, left: 8 }}>
      <XAxis type="number" dataKey="x" domain={X_DOMAIN} ticks={xTicks} tick={tickStyle} tickLine={false} axisLine={false} tickSize={0} tickMargin={26} height={70} allowDataOverflow interval={0}>
        <Label value="Correlation Interval(Chip)" position="bottom" offset={50} style={{ fontFamily: FONT, fontSize: 79, fill: '#000' }} />
      </XAxis>
      <YAxis type="number" dataKey="y" domain={Y_DOMAIN} ticks={yTicks} tick={tickStyle} tickLine={false} axisLine={false} tickSize={0} tickMargin={13} width={290} allowDataOverflow interval={0}>
        <Label value="Time(ms)" angle={-90} position="insideLeft" offset={42} style={{ fontFamily: FONT, fontSize: 82, fill: '#000', textAnchor: 'middle' }} />
      </YAxis>
      {polyline('bg', toPoints([X_DOMAIN[0], Y_DOMAIN[0], X_DOMAIN[1], Y_DOMAIN[0], X_DOMAIN[1], Y_DOMAIN[1], X_DOMAIN[0], Y_DOMAIN[1]]), { fill: '#00CFFF', stroke: 'none' })}
      {plotLayers.flatMap((layer, l) =>
        layer.regions.map((r, i) =>
          polyline(`r${l}-${i}`, toPoints(r), { fill: layer.fill, stroke: '#000', strokeWidth: 2.2 })
        )
      )}
      {xGrid.map(v =>
        polyline(`gx${v}`, [{ x: v, y: Y_DOMAIN[0] }, { x: v, y: Y_DOMAIN[1] }], { stroke: '#000', strokeWidth: 1.6, strokeDasharray: '25 23', fill: 'none' })
      )}
      {yGrid.map(v =>
        polyline(`gy${v}`, [{ x: X_DOMAIN[0], y: v }, { x: X_DOMAIN[1], y: v }], { stroke: '#000', strokeWidth: 1.6, strokeDasharray: '25 23', fill: 'none' })
      )}
      {polyline('frame', toPoints([X_DOMAIN[0], Y_DOMAIN[0], X_DOMAIN[1], Y_DOMAIN[0], X_DOMAIN[1], Y_DOMAIN[1], X_DOMAIN[0], Y_DOMAIN[1]]), { fill: 'none', stroke: '#000', strokeWidth: 2.5 })}
    </ScatterChart>
  )
}

function ColorBar() {
  return (
    <ScatterChart width={482} height={1810} margin={{ top: 46, right: 8, bottom: 207, left: 47 }}>
      <XAxis type="number" dataKey="x" domain={[0, 1]} hide />
      <YAxis
        type="number"
        dataKey="y"
        orientation="right"
        domain={[-0.118, 0.2488]}
        ticks={cbarTicks}
        tick={tickStyle}
        tickLine={false}
        axisLine={false}
        tickSize={0}
        tickMargin={16}
        width={300}
        interval={0}
        allowDataOverflow
        tickFormatter={(v: number) => (v > 0.24 ? '0.25' : String(v))}
      />
      {cbarColors.map((c, i) =>
        polyline(`b${i}`, toPoints([0, cbarEdges[i], 1, cbarEdges[i], 1, cbarEdges[i + 1], 0, cbarEdges[i + 1]]), { fill: c, stroke: c, strokeWidth: 0.5 })
      )}
      {cbarTicks.slice(0, -1).flatMap(v => [
        polyline(`tl${v}`, [{ x: 0, y: v }, { x: 0.1, y: v }], { stroke: '#000', strokeWidth: 1.5, fill: 'none' }),
        polyline(`tr${v}`, [{ x: 0.9, y: v }, { x: 1, y: v }], { stroke: '#000', strokeWidth: 1.5, fill: 'none' }),
      ])}
      {polyline('cframe', toPoints([0, -0.118, 1, -0.118, 1, 0.2488, 0, 0.2488]), { fill: 'none', stroke: '#000', strokeWidth: 2 })}
    </ScatterChart>
  )
}

export default function App() {
  return (
    <div style={{ position: 'absolute', left: 0, top: 0, width: 2482, height: 1810, background: '#fff', overflow: 'hidden' }}>
      <div style={{ position: 'absolute', left: 0, top: 0 }}>
        <MainPlot />
      </div>
      <div style={{ position: 'absolute', left: 2000, top: 0 }}>
        <ColorBar />
      </div>
      <div style={{ position: 'absolute', left: 2241, top: 745, fontFamily: FONT, fontSize: 78, lineHeight: '90px', color: '#000' }}>(Chips)</div>
    </div>
  )
}
